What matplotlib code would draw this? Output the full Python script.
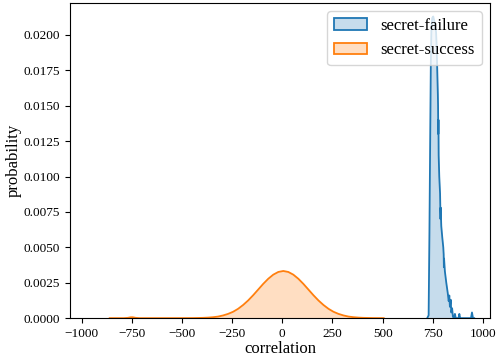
import matplotlib
matplotlib.use('Agg')
import matplotlib.pyplot as plt
from matplotlib.patches import Patch

plt.rcParams['font.family'] = ['Liberation Serif', 'DejaVu Serif']

# density curves (x = correlation, y = probability)
fail_x = [722, 729, 733, 737, 740, 743, 747, 752, 757, 762, 766, 769, 772, 775,
          776, 777, 778, 779, 782, 786, 787, 788, 789, 792, 797, 802, 804, 805,
          806, 810, 817, 824, 829, 832, 835, 839, 842, 846, 850, 855, 860, 864,
          878, 882, 886, 940, 945, 950, 956]
fail_y = [0.0, 0.0002, 0.006, 0.013, 0.018, 0.0205, 0.0212, 0.0213, 0.0210,
          0.0206, 0.0202, 0.0192, 0.0175, 0.0158, 0.0150, 0.0130, 0.0140,
          0.0115, 0.0100, 0.0088, 0.0080, 0.0070, 0.0078, 0.0065, 0.0057,
          0.0050, 0.0045, 0.0036, 0.0042, 0.0033, 0.0025, 0.0018, 0.0012,
          0.0016, 0.0008, 0.0013, 0.0004, 0.0007, 0.0001, 0.0, 0.0003, 0.0,
          0.0, 0.0003, 0.0, 0.0, 0.0004, 0.0, 0.0]

succ_x = [-860, -790, -770, -755, -745, -730, -710, -600, -495, -445, -395,
          -370, -345, -320, -295, -270, -245, -220, -195, -170, -145, -120,
          -95, -70, -45, -20, 5, 30, 55, 80, 105, 130, 155, 180, 205, 230,
          255, 280, 305, 330, 355, 380, 405, 455, 505]
succ_y = [0.0, 0.0, 0.00002, 0.00006, 0.00006, 0.00002, 0.0, 0.0, 0.000001,
          0.000005, 0.00002, 0.000037, 0.000066, 0.00011, 0.00019, 0.00030,
          0.00045, 0.00066, 0.00093, 0.00125, 0.00162, 0.00202, 0.00242,
          0.00278, 0.00307, 0.00326, 0.00333, 0.00326, 0.00307, 0.00278,
          0.00242, 0.00202, 0.00162, 0.00125, 0.00093, 0.00066, 0.00045,
          0.00030, 0.00019, 0.00011, 0.000066, 0.000037, 0.00002, 0.000005,
          0.000001]

labels = ['secret-failure', 'secret-success']
colors = ['#1f77b4', '#ff7f0e']

fig = plt.figure(figsize=(4.96, 3.64), dpi=100)
ax = fig.add_axes([0.141, 0.126, 0.847, 0.866])

for xs, ys, c in [(fail_x, fail_y, colors[0]), (succ_x, succ_y, colors[1])]:
    ax.fill_between(xs, ys, color=c, alpha=0.25, linewidth=0)
    ax.plot(xs, ys, color=c, linewidth=1.3)

ax.set_xlim(-1058, 1035)
ax.set_ylim(0, 0.02226)
ax.set_xticks([-1000, -750, -500, -250, 0, 250, 500, 750, 1000])
ax.set_yticks([0.0, 0.0025, 0.005, 0.0075, 0.01, 0.0125, 0.015, 0.0175, 0.02])
ax.set_yticklabels(['%.4f' % v for v in ax.get_yticks()])
ax.tick_params(labelsize=9.5)
ax.set_xlabel('correlation', fontsize=12, labelpad=1)
ax.set_ylabel('probability', fontsize=12, labelpad=1)

handles = [Patch(facecolor=(*matplotlib.colors.to_rgb(c), 0.25),
                 edgecolor=c, linewidth=1.3) for c in colors]
ax.legend(handles, labels, loc='upper right', fontsize=12,
          borderaxespad=0.5)

fig.savefig('out.png', dpi=100)
